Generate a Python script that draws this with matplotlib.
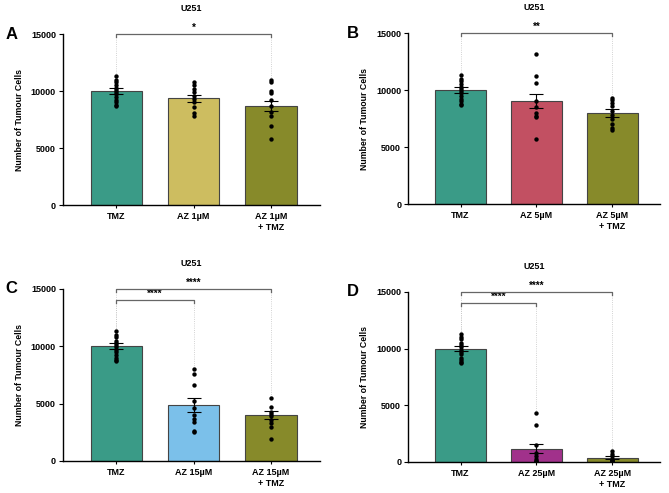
import matplotlib.pyplot as plt

plt.rcParams['font.family'] = ['Liberation Sans', 'DejaVu Sans']
plt.rcParams['font.weight'] = 'bold'

# Data
tmz_pts = [8700, 8800, 9000, 9200, 9500, 9700, 9900, 10100, 10300, 10500, 10800, 11000, 11300]

panels = {
    'A': {
        'labels': ['TMZ', 'AZ 1µM', 'AZ 1µM\n+ TMZ'],
        'means': [10000, 9350, 8700],
        'sem': [260, 330, 470],
        'points': [tmz_pts,
                   [7800, 8100, 8600, 9000, 9300, 9600, 9900, 10200, 10500, 10800],
                   [5800, 6900, 7800, 8200, 8700, 9200, 9800, 10000, 10800, 11000]],
        'colors': ['#3a9b87', '#cdbd60', '#878a2a'],
        'brackets': [(0, 2, 15000, '*')],
    },
    'B': {
        'labels': ['TMZ', 'AZ 5µM', 'AZ 5µM\n+ TMZ'],
        'means': [10000, 9050, 8000],
        'sem': [260, 620, 330],
        'points': [tmz_pts,
                   [5700, 7600, 7700, 8000, 8500, 9000, 10600, 11200, 13200],
                   [6500, 6700, 7000, 7500, 7800, 8200, 8600, 8900, 9100, 9300]],
        'colors': ['#3a9b87', '#c25062', '#878a2a'],
        'brackets': [(0, 2, 15000, '**')],
    },
    'C': {
        'labels': ['TMZ', 'AZ 15µM', 'AZ 15µM\n+ TMZ'],
        'means': [10000, 4850, 4000],
        'sem': [260, 600, 380],
        'points': [tmz_pts,
                   [2500, 2600, 3400, 3700, 4000, 4600, 5200, 6600, 7600, 8000],
                   [1900, 3000, 3300, 3600, 3900, 4100, 4300, 4700, 5500]],
        'colors': ['#3a9b87', '#7bc0ea', '#878a2a'],
        'brackets': [(0, 2, 15000, '****'), (0, 1, 14050, '****')],
    },
    'D': {
        'labels': ['TMZ', 'AZ 25µM', 'AZ 25µM\n+ TMZ'],
        'means': [10000, 1150, 380],
        'sem': [260, 400, 150],
        'points': [tmz_pts,
                   [0, 50, 100, 300, 500, 800, 1500, 3300, 4300],
                   [50, 100, 200, 300, 500, 700, 1000]],
        'colors': ['#3a9b87', '#a1318b', '#878a2a'],
        'brackets': [(0, 2, 15000, '****'), (0, 1, 14050, '****')],
    },
}

positions = {
    'A': [0.094, 0.584, 0.384, 0.347],
    'B': [0.610, 0.586, 0.377, 0.347],
    'C': [0.094, 0.065, 0.384, 0.349],
    'D': [0.610, 0.063, 0.377, 0.345],
}
letter_x = {'A': -0.20, 'B': -0.22, 'C': -0.20, 'D': -0.22}

fig = plt.figure(figsize=(6.69, 4.93), dpi=100)

for key, p in panels.items():
    ax = fig.add_axes(positions[key])
    x = range(3)
    ax.bar(x, p['means'], width=0.66, color=p['colors'], edgecolor='#444444', linewidth=0.8, zorder=2)
    ax.errorbar(x, p['means'], yerr=p['sem'], fmt='none', ecolor='black',
                elinewidth=0.8, capsize=5, capthick=0.8, zorder=4)
    for i, pts in enumerate(p['points']):
        ax.scatter([i] * len(pts), pts, s=10, color='black', zorder=3, linewidths=0)

    # significance brackets
    for a, b, y, stars in p['brackets']:
        ax.plot([a, a, b, b], [y - 300, y, y, y - 300], color='#666666', lw=0.9,
                clip_on=False, zorder=5)
        for j in (a, b):
            ax.plot([j, j], [y - 300, max(p['points'][j]) + 150], color='#c4c4c4',
                    lw=0.6, ls=':', clip_on=False, zorder=1)
        ax.text((a + b) / 2, y + 100, stars, ha='center', va='bottom', fontsize=7,
                clip_on=False)

    ax.set_xlim(-0.69, 2.63)
    ax.set_ylim(0, 15000)
    ax.set_yticks([0, 5000, 10000, 15000])
    ax.set_xticks(list(x))
    ax.set_xticklabels(p['labels'], fontsize=6.5, fontweight='bold', linespacing=1.25)
    ax.tick_params(axis='y', labelsize=6.5, length=3, width=0.8, pad=2)
    ax.tick_params(axis='x', length=2, width=0.8, pad=3)
    for s in ['top', 'right']:
        ax.spines[s].set_visible(False)
    for s in ['left', 'bottom']:
        ax.spines[s].set_linewidth(1.0)
    ax.set_ylabel('Number of Tumour Cells', fontsize=6.3, fontweight='bold', labelpad=5)
    title_y = 1.0 + 21 / (positions[key][3] * 493)
    ax.text(0.5, title_y, 'U251', transform=ax.transAxes, ha='center', va='bottom',
            fontsize=6.5, fontweight='bold')
    ax.text(letter_x[key], 1.0, key, transform=ax.transAxes, ha='center', va='center',
            fontsize=12, fontweight='bold')

fig.savefig('out.png', dpi=100)
